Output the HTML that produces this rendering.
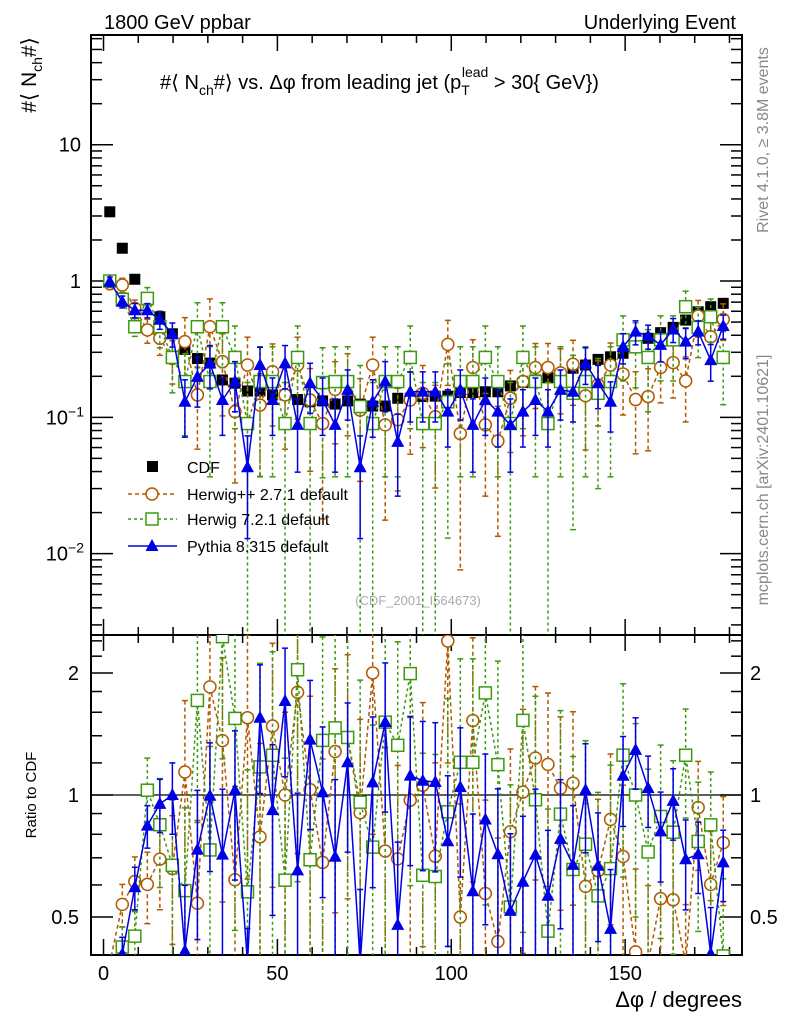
<!DOCTYPE html>
<html><head><meta charset="utf-8"><style>
html,body{margin:0;padding:0;background:#fff;width:786px;height:1024px;overflow:hidden;}
svg{display:block;font-family:"Liberation Sans",Arial,sans-serif;}
</style></head><body>
<svg id="chart" width="786" height="1024" viewBox="0 0 786 1024">
<rect width="786" height="1024" fill="#fff"/>
<text x="104" y="29" font-size="20">1800 GeV ppbar</text>
<text x="736" y="29" font-size="20" text-anchor="end">Underlying Event</text>
<text x="160" y="89" font-size="20">#⟨ N<tspan font-size="14" dy="6">ch</tspan><tspan dy="-6">#⟩ vs. Δφ from leading jet  (p</tspan><tspan font-size="14" dy="6">T</tspan><tspan font-size="14" dx="-8" dy="-18">lead</tspan><tspan dy="12"> &gt; 30{ GeV})</tspan></text>
<text transform="translate(36,75) rotate(-90)" font-size="21" text-anchor="middle">#⟨ N<tspan font-size="14" dy="6">ch</tspan><tspan dy="-6">#⟩</tspan></text>
<text transform="translate(36,795) rotate(-90)" font-size="15" text-anchor="middle">Ratio to CDF</text>
<text x="742" y="1007" font-size="22" text-anchor="end">Δφ / degrees</text>
<text transform="translate(768,140) rotate(-90)" font-size="16" fill="#888" text-anchor="middle">Rivet 4.1.0, ≥ 3.8M events</text>
<text transform="translate(768,480) rotate(-90)" font-size="16" fill="#888" text-anchor="middle">mcplots.cern.ch [arXiv:2401.10621]</text>
<text x="418" y="605" font-size="13" fill="#aaa" text-anchor="middle">(CDF_2001_I564673)</text>
<g id="plot"></g>
<g id="legend">
<rect x="147" y="461" width="11" height="11" fill="#000"/>
<text x="187" y="473" font-size="16">CDF</text>
<line x1="128" y1="494" x2="177" y2="494" stroke="#b35900" stroke-width="1.5" stroke-dasharray="4,3"/>
<circle cx="152" cy="494" r="6" fill="#fff" stroke="#b35900" stroke-width="1.5"/>
<text x="187" y="500" font-size="16">Herwig++ 2.7.1 default</text>
<line x1="128" y1="519" x2="177" y2="519" stroke="#3c9a0f" stroke-width="1.5" stroke-dasharray="3,3"/>
<rect x="146" y="513" width="12" height="12" fill="#fff" stroke="#3c9a0f" stroke-width="1.5"/>
<text x="187" y="525" font-size="16">Herwig 7.2.1 default</text>
<line x1="128" y1="546" x2="177" y2="546" stroke="#0000e6" stroke-width="1.5"/>
<path d="M152,539 L158.5,551 L145.5,551 Z" fill="#0000e6"/>
<text x="187" y="552" font-size="16">Pythia 8.315 default</text>
</g>
</svg>
<script>
const binCenters=[1.8,5.4,9,12.6,16.2,19.8,23.4,27,30.6,34.2,37.8,41.4,45,48.6,52.2,55.8,59.4,63,66.6,70.2,73.8,77.4,81,84.6,88.2,91.8,95.4,99,102.6,106.2,109.8,113.4,117,120.6,124.2,127.8,131.4,135,138.6,142.2,145.8,149.4,153,156.6,160.2,163.8,167.4,171,174.6,178.2];
const cdfValues=[3.22,1.74,1.03,0.726,0.547,0.41,0.315,0.27,0.25,0.188,0.178,0.156,0.156,0.146,0.146,0.135,0.13,0.132,0.125,0.132,0.125,0.121,0.121,0.138,0.138,0.142,0.143,0.143,0.152,0.152,0.154,0.154,0.17,0.18,0.188,0.195,0.204,0.229,0.242,0.266,0.278,0.295,0.329,0.38,0.418,0.457,0.517,0.595,0.648,0.686];
const herwigppValues=[0.96,0.935,0.63,0.437,0.38,0.27,0.359,0.146,0.462,0.256,0.11,0.242,0.123,0.216,0.146,0.242,0.134,0.09,0.16,0.183,0.113,0.242,0.088,0.096,0.134,0.15,0.101,0.343,0.076,0.232,0.088,0.067,0.138,0.183,0.232,0.232,0.212,0.245,0.144,0.173,0.242,0.208,0.135,0.142,0.232,0.252,0.185,0.554,0.39,0.523];
const herwig7Values=[1.0,0.734,0.462,0.746,0.462,0.275,0.183,0.462,0.183,0.462,0.275,0.09,0.183,0.183,0.09,0.275,0.09,0.18,0.183,0.183,0.12,0.09,0.183,0.183,0.275,0.09,0.09,0.13,0.183,0.183,0.275,0.183,0.09,0.275,0.183,0.09,0.183,0.15,0.183,0.15,0.183,0.37,0.329,0.275,0.37,0.37,0.648,0.457,0.547,0.275];
const pythiaValues=[0.99,0.705,0.61,0.61,0.52,0.41,0.13,0.198,0.249,0.134,0.183,0.043,0.242,0.134,0.249,0.088,0.178,0.134,0.088,0.159,0.043,0.13,0.183,0.066,0.154,0.154,0.154,0.11,0.159,0.088,0.134,0.11,0.088,0.11,0.134,0.11,0.159,0.154,0.249,0.178,0.13,0.329,0.425,0.395,0.34,0.442,0.359,0.425,0.263,0.468];
const herwigppRelErr=[0.1,0.12,0.15,0.2,0.25,0.35,0.5,0.6,0.6,0.6,0.7,0.6,0.7,0.6,0.6,0.6,0.7,0.8,0.6,0.6,0.7,0.6,0.8,0.7,0.6,0.6,0.7,0.5,0.9,0.6,0.7,0.8,0.6,0.6,0.5,0.5,0.5,0.5,0.6,0.5,0.45,0.5,0.6,0.6,0.45,0.45,0.5,0.3,0.35,0.3];
const herwig7RelErr=[0.1,0.12,0.15,0.2,0.3,0.45,0.6,0.5,0.8,0.5,0.7,1,0.8,0.8,1,0.7,1,0.8,0.8,0.8,1,1,0.8,0.8,0.7,1,1,0.9,0.8,0.8,0.7,0.8,1,0.7,0.8,1,0.8,0.9,0.8,0.8,0.8,0.5,0.5,0.6,0.5,0.5,0.3,0.4,0.35,0.55];
const pythiaRelErr=[0.08,0.1,0.12,0.12,0.15,0.2,0.45,0.4,0.35,0.45,0.4,0.7,0.35,0.45,0.35,0.55,0.4,0.45,0.55,0.4,0.7,0.45,0.4,0.6,0.4,0.4,0.4,0.45,0.4,0.55,0.45,0.45,0.55,0.45,0.45,0.45,0.4,0.4,0.3,0.35,0.4,0.25,0.2,0.2,0.25,0.2,0.25,0.2,0.3,0.2];
const xTicksMajor=[0,50,100,150];
const topYLabels=[{v:10,t:"10"},{v:1,t:"1"},{v:0.1,t:"10",e:"−1"},{v:0.01,t:"10",e:"−2"}];
const ratioYLabels=[0.5,1,2];

const NS="http://www.w3.org/2000/svg";
const L=91,R=742,T1=35,B1=635,T2=635,B2=955;
const xMin=-3.6,xMax=183.6;
const topLogMin=-2.597,topLogMax=1.805;
const rLogMin=-1.311,rLogMax=1.311;
function clamp(y,t,b){return Math.max(t-8,Math.min(b+8,y));}
function xs(v){return L+(v-xMin)/(xMax-xMin)*(R-L);}
function ysTop(v){return clamp(B1-(Math.log10(v)-topLogMin)/(topLogMax-topLogMin)*(B1-T1),T1,B1);}
function ysRatio(v){return clamp(B2-(Math.log2(v)-rLogMin)/(rLogMax-rLogMin)*(B2-T2),T2,B2);}
const plot=document.getElementById('plot');
function mk(tag,attrs,parent){const e=document.createElementNS(NS,tag);for(const k in attrs)e.setAttribute(k,attrs[k]);(parent||plot).appendChild(e);return e;}

const defs=mk('defs',{});
const c1=mk('clipPath',{id:'clipTop'},defs);mk('rect',{x:L,y:T1,width:R-L,height:B1-T1},c1);
const c2=mk('clipPath',{id:'clipRatio'},defs);mk('rect',{x:L,y:T2,width:R-L,height:B2-T2},c2);

function frame(t,b,name){
  const r=mk('rect',{x:L,y:t,width:R-L,height:b-t,fill:'none',stroke:'#000','stroke-width':2});
  
  
  for(let v=0;v<=180;v+=10){
    const x=xs(v);const len=(v%50===0)?16:8;
    const a=mk('line',{x1:x,y1:b,x2:x,y2:b-len,stroke:'#000','stroke-width':1.5});
    
    
    const c=mk('line',{x1:x,y1:t,x2:x,y2:t+len,stroke:'#000','stroke-width':1.5});
    
    
  }
}
frame(T1,B1,'main-plot-frame');
frame(T2,B2,'ratio-plot-frame');
for(let d=-3;d<=1;d++){
  for(let m=1;m<=9;m++){
    const v=m*Math.pow(10,d);
    const yRaw=B1-(Math.log10(v)-topLogMin)/(topLogMax-topLogMin)*(B1-T1);
    if(yRaw<T1||yRaw>B1)continue;
    const y=yRaw;
    const len=m===1?22:11;
    const a=mk('line',{x1:L,y1:y,x2:L+len,y2:y,stroke:'#000','stroke-width':1.5});
    
    
    const b=mk('line',{x1:R,y1:y,x2:R-len,y2:y,stroke:'#000','stroke-width':1.5});
    
    
  }
}
topYLabels.forEach(o=>{
  const y=ysTop(o.v);
  const t=mk('text',{x:81,y:y+7,'font-size':20,'text-anchor':'end'});
  
  
  if(o.e){t.textContent=o.t;const s=mk('tspan',{'font-size':14,dy:-8},t);s.textContent=o.e;t.setAttribute('x',84);}
  else t.textContent=o.t;
});
const ratioTickVals=[0.5,0.6,0.7,0.8,0.9,1,1.2,1.4,1.6,1.8,2,2.2,2.4];
ratioTickVals.forEach(vv=>{
  const y=ysRatio(vv);if(y<T2||y>B2)return;
  const major=(vv===0.5||vv===1||vv===2);const len=major?22:11;
  const a=mk('line',{x1:L,y1:y,x2:L+len,y2:y,stroke:'#000','stroke-width':1.5});
  
  
  const b=mk('line',{x1:R,y1:y,x2:R-len,y2:y,stroke:'#000','stroke-width':1.5});
  
  
});
ratioYLabels.forEach(v=>{
  const y=ysRatio(v);
  const t=mk('text',{x:79,y:y+7,'font-size':20,'text-anchor':'end'});t.textContent=String(v);
  
  
  const t2=mk('text',{x:750,y:y+7,'font-size':20});t2.textContent=String(v);
  
  
});
xTicksMajor.forEach(v=>{
  const t=mk('text',{x:xs(v),y:980,'font-size':20,'text-anchor':'middle'});t.textContent=String(v);
  
  
});
const ul=mk('line',{x1:L,y1:ysRatio(1),x2:R,y2:ysRatio(1),stroke:'#000','stroke-width':1.3});



const gTop=mk('g',{'clip-path':'url(#clipTop)'});


const gRat=mk('g',{'clip-path':'url(#clipRatio)'});



function marker(kind,x,y,color,g,name){
  let e;
  if(kind==='circle')e=mk('circle',{cx:x,cy:y,r:6,fill:'#fff',stroke:color,'stroke-width':1.5},g);
  else if(kind==='square')e=mk('rect',{x:x-6,y:y-6,width:12,height:12,fill:'#fff',stroke:color,'stroke-width':1.5},g);
  else e=mk('path',{d:`M${x},${y-7}L${x+6.5},${y+5}L${x-6.5},${y+5}Z`,fill:color},g);
  
  
}
function drawSeries(vals,rel,color,dash,kind,name){
  [[gTop,ysTop,1],[gRat,ysRatio,0]].forEach(([g,ys,isTop])=>{
    const pts=[];
    vals.forEach((v,i)=>{
      const val=isTop?v:v/cdfValues[i];
      const x=xs(binCenters[i]);const y=ys(val);
      pts.push(x+','+y);
      const hi=val*(1+rel[i]);const lo=val*(1-rel[i]);
      const yHi=ys(hi);const yLo=lo>0.0001?ys(lo):(isTop?B1+5:B2+5);
      const eb=mk('line',{x1:x,y1:yHi,x2:x,y2:yLo,stroke:color,'stroke-width':1.5,'stroke-dasharray':dash||'none'},g);
      
      
      const cap=mk('line',{x1:x-3,y1:yHi,x2:x+3,y2:yHi,stroke:color,'stroke-width':1.5},g);
      
      
      const cap2=mk('line',{x1:x-3,y1:yLo,x2:x+3,y2:yLo,stroke:color,'stroke-width':1.5},g);
      
      
    });
    const pl=mk('polyline',{points:pts.join(' '),fill:'none',stroke:color,'stroke-width':1.5,'stroke-dasharray':dash||'none'},g);
    
    
    vals.forEach((v,i)=>{
      const val=isTop?v:v/cdfValues[i];
      marker(kind,xs(binCenters[i]),ys(val),color,g,name+'-point');
    });
  });
}
cdfValues.forEach((v,i)=>{
  const x=xs(binCenters[i]),y=ysTop(v);
  const r=mk('rect',{x:x-5.5,y:y-5.5,width:11,height:11,fill:'#000'},gTop);
  
  
});
drawSeries(herwigppValues,herwigppRelErr,'#b35900','4,3','circle','herwigpp');
drawSeries(herwig7Values,herwig7RelErr,'#3c9a0f','3,3','square','herwig7');
drawSeries(pythiaValues,pythiaRelErr,'#0000e6',null,'triangle','pythia');
document.getElementById('chart').appendChild(document.getElementById('legend'));
</script>
</body></html>
